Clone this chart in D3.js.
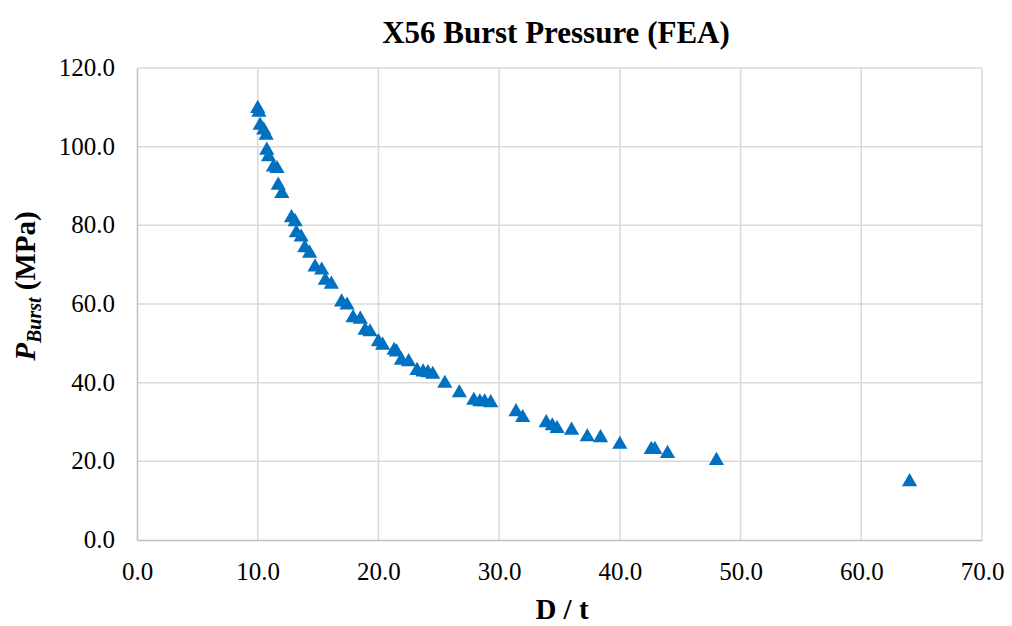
<!DOCTYPE html>
<html>
<head>
<meta charset="utf-8">
<script src="https://cdn.jsdelivr.net/npm/d3@7"></script>
<style>
  body { margin: 0; background: #fff; }
</style>
</head>
<body>
<svg id="chart" width="1012" height="626"></svg>
<script>
// D/t ratio and FEA burst pressure (MPa)
const dt = [
  10.0, 10.1, 10.2, 10.5, 10.7, 10.75, 10.9, 11.3, 11.6, 11.7, 12.0,
  12.8, 13.1, 13.2, 13.6, 13.9, 14.3, 14.75, 15.3, 15.6, 16.1,
  16.95, 17.4, 17.9, 18.5, 18.9, 19.3, 20.0, 20.35, 21.3, 21.5,
  21.9, 22.5, 23.2, 23.7, 24.1, 24.5, 25.5, 26.7, 27.9, 28.4,
  28.8, 29.3, 31.4, 31.95, 33.9, 34.4, 34.8, 36.0, 37.3, 38.4,
  40.0, 42.6, 42.9, 43.95, 48.0, 64.0
];
const pBurst = [
  110.2, 109.2, 105.9, 104.7, 103.4, 99.6, 97.9, 95.3, 94.9, 90.7, 88.6,
  82.4, 81.4, 78.6, 77.5, 74.8, 73.4, 69.9, 69.1, 66.5, 65.5,
  61.0, 60.2, 57.0, 56.6, 53.8, 53.4, 50.9, 50.0, 48.7, 48.3,
  46.2, 45.8, 43.6, 43.2, 43.0, 42.6, 40.3, 37.9, 36.0, 35.6,
  35.6, 35.4, 33.1, 31.6, 30.3, 29.5, 28.8, 28.4, 26.7, 26.5,
  24.8, 23.5, 23.5, 22.5, 20.7, 15.3
];
const xTicks = [0, 10, 20, 30, 40, 50, 60, 70];
const yTicks = [0, 20, 40, 60, 80, 100, 120];

const serif = "'Liberation Serif', 'Times New Roman', 'DejaVu Serif', serif";

const svg = d3.select('#chart');

const x = d3.scaleLinear().domain([0, 70]).range([137, 982]);
const y = d3.scaleLinear().domain([0, 120]).range([540, 68]);

// gridlines
svg.append('g')
  .selectAll('line')
  .data(xTicks.slice(1))
  .join('line')
  .attr('x1', d => x(d)).attr('x2', d => x(d))
  .attr('y1', y(0)).attr('y2', y(120))
  .attr('stroke', '#d9d9d9').attr('stroke-width', 1.5);

svg.append('g')
  .selectAll('line')
  .data(yTicks.slice(1))
  .join('line')
  .attr('x1', x(0)).attr('x2', x(70))
  .attr('y1', d => y(d)).attr('y2', d => y(d))
  .attr('stroke', '#d9d9d9').attr('stroke-width', 1.5);

// axes
svg.append('g')
  .attr('transform', `translate(0, ${y(0)})`)
  .call(d3.axisBottom(x).tickValues(xTicks).tickSize(0).tickFormat(d3.format('.1f')))
  .call(g => g.select('.domain').attr('stroke', '#bfbfbf').attr('stroke-width', 1.5))
  .selectAll('text')
  .attr('y', 22)
  .style('font-family', serif)
  .style('font-size', '25px')
  .style('fill', '#000');

svg.append('g')
  .attr('transform', `translate(${x(0)}, 0)`)
  .call(d3.axisLeft(y).tickValues(yTicks).tickSize(0).tickFormat(d3.format('.1f')))
  .call(g => g.select('.domain').attr('stroke', '#bfbfbf').attr('stroke-width', 1.5))
  .selectAll('text')
  .attr('x', -22)
  .attr('dy', '0.3em')
  .style('font-family', serif)
  .style('font-size', '25px')
  .style('fill', '#000');

// markers (nudged down so the triangle box, not its centroid, sits on the point)
const tri = d3.symbol().type(d3.symbolTriangle).size(100);
svg.append('g')
  .attr('fill', '#0070c0')
  .selectAll('path')
  .data(dt.map((d, i) => [d, pBurst[i]]))
  .join('path')
  .attr('d', tri)
  .attr('transform', d => `translate(${x(d[0])}, ${y(d[1]) + 2})`);

// title
svg.append('text')
  .attr('x', 556).attr('y', 43)
  .attr('text-anchor', 'middle')
  .style('font-family', serif)
  .style('font-size', '31px')
  .style('font-weight', 'bold')
  .text('X56 Burst Pressure (FEA)');

// x title
svg.append('text')
  .attr('x', 562).attr('y', 619)
  .attr('text-anchor', 'middle')
  .style('font-family', serif)
  .style('font-size', '29px')
  .style('font-weight', 'bold')
  .text('D / t');

// y title
const yt = svg.append('text')
  .attr('transform', 'translate(35, 286) rotate(-90)')
  .attr('text-anchor', 'middle')
  .style('font-family', serif)
  .style('font-size', '29px')
  .style('font-weight', 'bold');
yt.append('tspan').style('font-style', 'italic').text('P');
yt.append('tspan').style('font-style', 'italic').style('font-size', '20px').attr('dy', 6).text('Burst');
yt.append('tspan').attr('dy', -6).text(' (MPa)');
</script>
</body>
</html>
